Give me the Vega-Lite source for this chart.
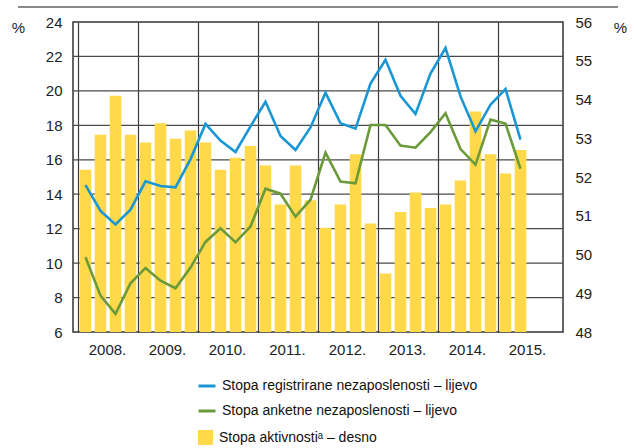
{
  "$schema": "https://vega.github.io/schema/vega-lite/v6.json",
  "width": 490,
  "height": 310,
  "autosize": {"type": "none"},
  "padding": {"left": 73, "top": 22, "right": 71, "bottom": 116},
  "background": "white",
  "config": {
    "view": {"stroke": "#333333", "strokeWidth": 1.5},
    "axis": {"labelFont": "Liberation Sans", "labelFontSize": 15, "labelColor": "#222222", "titleFont": "Liberation Sans", "titleFontSize": 15, "titleFontWeight": "normal", "titleColor": "#222222", "domain": false, "ticks": false, "labelOverlap": false},
    "legend": {"labelFont": "Liberation Sans Narrow, Arial Narrow, Liberation Sans, sans-serif", "labelFontSize": 14, "labelColor": "#111111", "padding": 0, "labelLimit": 500}
  },
  "datasets": {
    "hgrid": [{"g": 8}, {"g": 10}, {"g": 12}, {"g": 14}, {"g": 16}, {"g": 18}, {"g": 20}, {"g": 22}]
  },
  "data": {"values": [
    {"t": 2008.125, "reg": 14.53, "ank": 10.34, "akt": 52.19},
    {"t": 2008.375, "reg": 13.03, "ank": 8.11, "akt": 53.09},
    {"t": 2008.625, "reg": 12.25, "ank": 7.05, "akt": 54.10},
    {"t": 2008.875, "reg": 13.10, "ank": 8.83, "akt": 53.09},
    {"t": 2009.125, "reg": 14.75, "ank": 9.72, "akt": 52.89},
    {"t": 2009.375, "reg": 14.48, "ank": 8.98, "akt": 53.39},
    {"t": 2009.625, "reg": 14.40, "ank": 8.54, "akt": 52.99},
    {"t": 2009.875, "reg": 16.04, "ank": 9.74, "akt": 53.20},
    {"t": 2010.125, "reg": 18.08, "ank": 11.23, "akt": 52.89},
    {"t": 2010.375, "reg": 17.11, "ank": 12.02, "akt": 52.19},
    {"t": 2010.625, "reg": 16.45, "ank": 11.21, "akt": 52.50},
    {"t": 2010.875, "reg": 17.94, "ank": 12.13, "akt": 52.80},
    {"t": 2011.125, "reg": 19.37, "ank": 14.32, "akt": 52.30},
    {"t": 2011.375, "reg": 17.38, "ank": 14.03, "akt": 51.29},
    {"t": 2011.625, "reg": 16.57, "ank": 12.70, "akt": 52.30},
    {"t": 2011.875, "reg": 17.88, "ank": 13.68, "akt": 51.40},
    {"t": 2012.125, "reg": 19.90, "ank": 16.41, "akt": 50.69},
    {"t": 2012.375, "reg": 18.12, "ank": 14.73, "akt": 51.29},
    {"t": 2012.625, "reg": 17.81, "ank": 14.63, "akt": 52.59},
    {"t": 2012.875, "reg": 20.42, "ank": 18.02, "akt": 50.80},
    {"t": 2013.125, "reg": 21.81, "ank": 18.02, "akt": 49.51},
    {"t": 2013.375, "reg": 19.72, "ank": 16.82, "akt": 51.10},
    {"t": 2013.625, "reg": 18.66, "ank": 16.70, "akt": 51.60},
    {"t": 2013.875, "reg": 21.00, "ank": 17.61, "akt": 51.20},
    {"t": 2014.125, "reg": 22.49, "ank": 18.70, "akt": 51.29},
    {"t": 2014.375, "reg": 19.68, "ank": 16.62, "akt": 51.91},
    {"t": 2014.625, "reg": 17.65, "ank": 15.72, "akt": 53.69},
    {"t": 2014.875, "reg": 19.20, "ank": 18.33, "akt": 52.59},
    {"t": 2015.125, "reg": 20.11, "ank": 18.10, "akt": 52.09},
    {"t": 2015.375, "reg": 17.17, "ank": 15.48, "akt": 52.70}
  ]},
  "layer": [
    {
      "data": {"name": "hgrid"},
      "mark": {"type": "rule", "color": "#4a4a4a", "strokeWidth": 1.2},
      "encoding": {
        "y": {"field": "g", "type": "quantitative", "scale": {"domain": [6, 24], "nice": false, "zero": false},
              "axis": {"orient": "left", "values": [6, 8, 10, 12, 14, 16, 18, 20, 22, 24], "labelOverlap": false, "labelFlush": false, "grid": false, "labelPadding": 11, "title": "%", "titleAngle": 0, "titleX": -55, "titleY": 5, "titleAlign": "center", "titleBaseline": "middle"}}
      }
    },
    {
      "mark": {"type": "bar", "width": 11.6, "color": "#FFD94A"},
      "encoding": {
        "x": {"field": "t", "type": "quantitative", "scale": {"domain": [2008, 2016], "nice": false, "zero": false},
              "axis": {"values": [2008, 2009, 2010, 2011, 2012, 2013, 2014, 2015], "labelExpr": "datum.value + '.'", "labelOffset": 29, "labelPadding": 10, "labelOverlap": false, "grid": true, "gridColor": "#3a3a3a", "gridWidth": 1.2, "title": null}},
        "y": {"field": "akt", "type": "quantitative", "scale": {"domain": [48, 56], "nice": false, "zero": false},
              "axis": {"orient": "right", "values": [48, 49, 50, 51, 52, 53, 54, 55, 56], "labelOverlap": false, "grid": false, "labelPadding": 12, "title": "%", "titleAngle": 0, "titleX": 57, "titleY": 5, "titleAlign": "center", "titleBaseline": "middle"}},
        "y2": {"datum": 48},
        "fill": {"datum": "Stopa aktivnostiᵃ – desno", "type": "nominal", "scale": {"range": ["#FFD94A"]},
                 "legend": {"orient": "none", "legendX": 125, "legendY": 408, "title": null, "symbolType": "square", "symbolSize": 225, "symbolStrokeWidth": 0, "labelOffset": 6}}
      }
    },
    {
      "layer": [
        {
          "transform": [{"fold": ["reg", "ank"], "as": ["series", "value"]}],
          "mark": {"type": "line", "strokeWidth": 2.6},
          "encoding": {
            "x": {"field": "t", "type": "quantitative"},
            "y": {"field": "value", "type": "quantitative", "scale": {"domain": [6, 24], "nice": false, "zero": false}, "axis": null},
            "stroke": {"field": "series", "type": "nominal", "scale": {"domain": ["reg", "ank"], "range": ["#1A96D4", "#6B9A3A"]},
                       "legend": {"orient": "none", "legendX": 124, "legendY": 354, "title": null, "symbolType": "stroke", "symbolSize": 289, "symbolStrokeWidth": 3, "rowPadding": 8, "labelOffset": 5,
                                  "labelExpr": "datum.value == 'reg' ? 'Stopa registrirane nezaposlenosti – lijevo' : 'Stopa anketne nezaposlenosti – lijevo'"}}
          }
        },
        {
          "mark": {"type": "rule", "color": "#8a8a8a", "strokeWidth": 1.2},
          "encoding": {
            "x": {"datum": 2007.0},
            "x2": {"datum": 2017.0},
            "y": {"datum": 24.87, "axis": null}
          }
        }
      ]
    }
  ],
  "resolve": {"scale": {"y": "independent"}}
}
